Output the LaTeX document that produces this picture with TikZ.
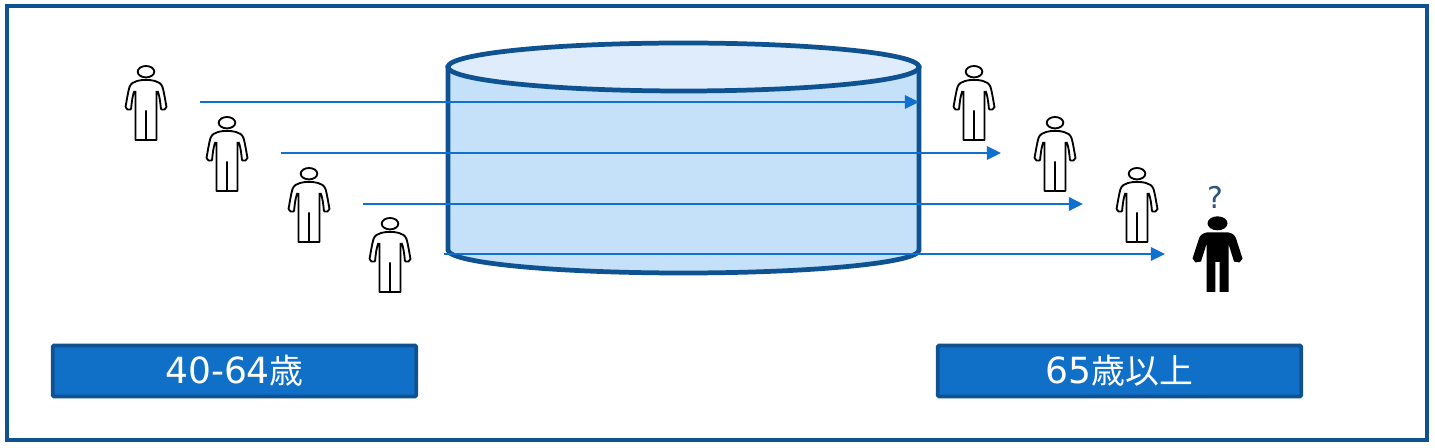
\documentclass[tikz,border=0pt]{standalone}
\usepackage{fontspec}
\usepackage{tikz}
\setmainfont{DejaVu Sans}
\newfontfamily\cjk[Scale=0.94]{Noto Sans CJK JP}
\usetikzlibrary{arrows.meta, positioning}
\definecolor{frame-blue}{RGB}{15,82,145}
\definecolor{box-blue}{RGB}{16,112,200}
\definecolor{line-blue}{RGB}{16,112,208}
\definecolor{drum-body}{RGB}{197,224,249}
\definecolor{drum-top}{RGB}{222,236,252}
\definecolor{mark-blue}{RGB}{47,83,128}

\begin{document}
\begin{tikzpicture}[
    x=0.02cm, y=-0.02cm,
    agebox/.style={rectangle, draw=frame-blue, line width=2.2pt, fill=box-blue, text=white, rounded corners=0.8pt, minimum width=7.27cm, minimum height=1.02cm, inner sep=0pt, font=\fontsize{20.5}{24}\selectfont},
    drum/.style={draw=frame-blue, line width=2.7pt},
    flow/.style={draw=line-blue, line width=1.3pt, -{Triangle[length=8pt, width=7.5pt]}},
    person/.pic={
        \draw[black, line width=1.05pt] (0,-30.3) ellipse [x radius=8.3, y radius=5.7];
        \draw[black, line width=1.05pt, line join=round]
            (-15,7.5) .. controls (-14,-3) and (-13,-8) .. (-11.5,-11)
            (-20.5,5) -- (-18.5,7.5) -- (-15,7.5)
            (-20.5,5) .. controls (-19,-3) and (-18,-10) .. (-16.5,-15)
            .. controls (-15,-19) and (-12,-20) .. (-9,-21)
            .. controls (-4,-22.5) and (4,-22.5) .. (9,-21)
            .. controls (12,-20) and (15,-19) .. (16.5,-15)
            .. controls (18,-10) and (19,-3) .. (20.5,5)
            -- (18.5,7.5) -- (15,7.5)
            (15,7.5) .. controls (14,-3) and (13,-8) .. (11.5,-11)
            (-10.5,-11) -- (-10.5,38) -- (10.5,38) -- (10.5,-11)
            (0,8.5) -- (0,38);
    },
    darkperson/.pic={
        \fill[black] (0,-33.7) ellipse [x radius=10, y radius=7];
        \fill[black, line join=round]
            (-11,-24.5) -- (11,-24.5)
            .. controls (16,-23.5) and (18,-21) .. (19,-17)
            -- (25,1.5) -- (22,5.5) -- (16.5,4.5)
            -- (11,-13) -- (11,35) -- (2.2,35) -- (2.2,5) -- (-2.2,5) -- (-2.2,35) -- (-11,35) -- (-11,-13)
            -- (-16.5,4.5) -- (-22,5.5) -- (-25,1.5) -- (-19,-17)
            .. controls (-18,-21) and (-16,-23.5) .. (-11,-24.5) -- cycle;
    },
]
\useasboundingbox (0,0) rectangle (1435,448);

% Frame
\draw[frame-blue, line width=2.7pt] (7,6) rectangle (1427,440);

% Drum
\path[drum, fill=drum-body] (448,67) -- (448,250) arc [start angle=180, end angle=0, x radius=235.5, y radius=23] -- (919,67) -- cycle;
\path[drum, fill=drum-top] (683.5,67) ellipse [x radius=235.5, y radius=24];

% People on the left
\pic at (146,102) {person};
\pic at (227,153) {person};
\pic at (309,204) {person};
\pic at (390,254) {person};

% People on the right
\pic at (974,102) {person};
\pic at (1055,153) {person};
\pic at (1137,204) {person};
\pic at (1217.5,257) {darkperson};
\node[text=mark-blue, font=\fontsize{17}{20}\selectfont, inner sep=0pt] (unknown) at (1215,197) {?};

% Arrows
\coordinate (start1) at (200,102);
\coordinate (start2) at (281,153);
\coordinate (start3) at (363,204);
\coordinate (start4) at (444,254);
\coordinate (end1) at (919,102);
\coordinate (end2) at (1001,153);
\coordinate (end3) at (1083,204);
\coordinate (end4) at (1165,254);
\draw[flow] (start1) -- (end1);
\draw[flow] (start2) -- (end2);
\draw[flow] (start3) -- (end3);
\draw[flow] (start4) -- (end4);

% Labels
\node[agebox] (younger) at (234.5,371) {40-64{\cjk 歳}};
\node[agebox] (older) at (1119.5,371) {65{\cjk 歳以上}};

\end{tikzpicture}
\end{document}
